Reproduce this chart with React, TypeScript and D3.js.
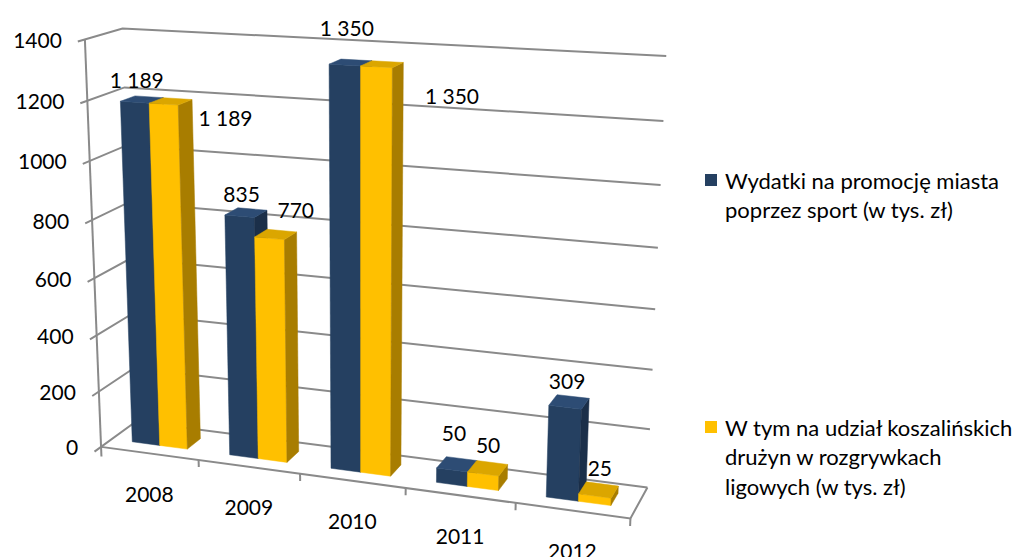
import * as d3 from "d3";

const categories = ["2008", "2009", "2010", "2011", "2012"];
const seriesKeys = ["promo", "league"];
const promoValues = [1189, 835, 1350, 50, 309];
const leagueValues = [1189, 770, 1350, 50, 25];
const yTicks = [0, 200, 400, 600, 800, 1000, 1200, 1400];
const legendLines = [
  ["Wydatki na promocję miasta", "poprzez sport (w tys. zł)"],
  ["W tym na udział koszalińskich", "drużyn w rozgrywkach", "ligowych (w tys. zł)"],
];

const W = 1014, H = 557;
const font = "Lato, 'Open Sans', sans-serif";

const colors = {
  promo: { front: "#254061", side: "#1b2f49", top: "#2d4c74" },
  league: { front: "#ffc000", side: "#a87d00", top: "#dba600" },
};

// where the plot box lands on screen: [u (categories 0..1), w (value 0..1), t (depth 0..1)] -> [x, y]
const frame: [number[], number[]][] = [
  [[0, 1, 0], [85, 39]],
  [[0, 0, 0], [101, 445]],
  [[0, 1, 1], [122, 29]],
  [[1, 1, 1], [667, 56]],
  [[1, 0, 1], [648, 487]],
  [[1, 0, 0], [630, 517]],
  [[0, 5 / 7, 0], [90, 161]],
  [[0, 1 / 7, 0], [99, 390]],
  [[1, 3 / 7, 1], [655, 309]],
  [[1, 5 / 7, 1], [660, 185]],
  [[0.2, 0, 0], [199, 463]],
  [[0.4, 0, 0], [300, 475]],
  [[0.6, 0, 0], [405, 488]],
  [[0.8, 0, 0], [516, 504]],
];

function solve(A: number[][], b: number[]) {
  const n = b.length;
  const M = A.map((r, i) => [...r, b[i]]);
  for (let c = 0; c < n; c++) {
    let piv = c;
    for (let r = c + 1; r < n; r++) if (Math.abs(M[r][c]) > Math.abs(M[piv][c])) piv = r;
    [M[c], M[piv]] = [M[piv], M[c]];
    for (let r = 0; r < n; r++) {
      if (r === c) continue;
      const f = M[r][c] / M[c][c];
      for (let k = c; k <= n; k++) M[r][k] -= f * M[c][k];
    }
  }
  return M.map((r, i) => r[n] / r[i]);
}

// least squares fit of a 3x4 perspective matrix
function fitCamera(pts: [number[], number[]][]) {
  const AtA = Array.from({ length: 11 }, () => new Array(11).fill(0));
  const Atb = new Array(11).fill(0);
  const add = (row: number[], b: number) => {
    for (let i = 0; i < 11; i++) {
      Atb[i] += row[i] * b;
      for (let j = 0; j < 11; j++) AtA[i][j] += row[i] * row[j];
    }
  };
  for (const [[X, Y, Z], [px, py]] of pts) {
    const x = px / 1000, y = py / 1000;
    add([X, Y, Z, 1, 0, 0, 0, 0, -x * X, -x * Y, -x * Z], x);
    add([0, 0, 0, 0, X, Y, Z, 1, -y * X, -y * Y, -y * Z], y);
  }
  const p = solve(AtA, Atb);
  return [p.slice(0, 4), p.slice(4, 8), [p[8], p[9], p[10], 1]];
}

const P = fitCamera(frame);
const project = (u: number, w: number, t: number): [number, number] => {
  const h = P.map((r) => r[0] * u + r[1] * w + r[2] * t + r[3]);
  return [(1000 * h[0]) / h[2], (1000 * h[1]) / h[2]];
};
// camera position in box coordinates
const camera = solve(
  P.map((r) => r.slice(0, 3)),
  P.map((r) => -r[3])
);

const xScale = d3.scaleBand().domain(categories).range([0, 1]).paddingInner(0.43).paddingOuter(0.215);
const sScale = d3.scaleBand().domain(seriesKeys).range([0, xScale.bandwidth()]);
const yScale = d3.scaleLinear().domain([0, 1400]).range([0, 1]);
const zScale = d3.scaleLinear().domain([0, 1]).range([0.3, 0.7]);

const fmt = d3.formatLocale({ decimal: ",", thousands: " ", grouping: [3], currency: ["", " zł"] }).format(",d");
const pathOf = (pts: [number, number, number][]) => d3.line()(pts.map((p) => project(p[0], p[1], p[2])));

type Bar = { key: string; cat: string; value: number; u0: number; u1: number; w1: number };

function barFaces(b: Bar) {
  const { u0, u1, w1 } = b;
  const t0 = zScale(0), t1 = zScale(1), w0 = 0;
  const c = colors[b.key as "promo" | "league"];
  const faces = [
    { n: [0, 0, -1], p: [u0, w0, t0], fill: c.front, pts: [[u0, w0, t0], [u1, w0, t0], [u1, w1, t0], [u0, w1, t0]] },
    { n: [1, 0, 0], p: [u1, w0, t0], fill: c.side, pts: [[u1, w0, t0], [u1, w0, t1], [u1, w1, t1], [u1, w1, t0]] },
    { n: [-1, 0, 0], p: [u0, w0, t0], fill: c.side, pts: [[u0, w0, t0], [u0, w0, t1], [u0, w1, t1], [u0, w1, t0]] },
    { n: [0, 1, 0], p: [u0, w1, t0], fill: c.top, pts: [[u0, w1, t0], [u1, w1, t0], [u1, w1, t1], [u0, w1, t1]] },
  ];
  return faces.filter((f) => {
    const d = (camera[0] - f.p[0]) * f.n[0] + (camera[1] - f.p[1]) * f.n[1] + (camera[2] - f.p[2]) * f.n[2];
    return d > 0;
  });
}

// offsets of the data labels, as Excel places them around the bar tops
function labelOffset(key: string, v: number): [number, number] {
  if (key === "promo") {
    return [2, -23 - 0.09 * Math.max(0, v - 1189) - 0.04 * Math.max(0, 400 - v)];
  }
  return [5 + 0.085 * Math.max(0, v - 520), -29 + 0.1 * Math.max(0, v - 770)];
}

export default function App() {
  const bars: Bar[] = [];
  categories.forEach((cat, i) => {
    [promoValues[i], leagueValues[i]].forEach((value, s) => {
      const key = seriesKeys[s];
      const u0 = (xScale(cat) ?? 0) + (sScale(key) ?? 0);
      bars.push({ key, cat, value, u0, u1: u0 + sScale.bandwidth(), w1: yScale(value) });
    });
  });
  const ordered = [...bars].sort(
    (a, b) => Math.abs((b.u0 + b.u1) / 2 - camera[0]) - Math.abs((a.u0 + a.u1) / 2 - camera[0])
  );
  const grey = "#8a8a8a";
  const boundaries = d3.range(categories.length + 1).map((i) => i / categories.length);

  return (
    <svg width={W} height={H} style={{ position: "absolute", left: 0, top: 0, background: "#fff" }}>
      {/* walls */}
      {yTicks.map((v) => (
        <path key={v} d={pathOf([[0, yScale(v), -0.18], [0, yScale(v), 1], [1, yScale(v), 1]]) ?? ""}
          fill="none" stroke={grey} strokeWidth={2} />
      ))}
      <path d={pathOf([[0, -0.025, 0], [0, 1, 0]]) ?? ""} stroke={grey} strokeWidth={2} fill="none" />
      <path d={pathOf([[0, 0, 0], [1, 0, 0], [1, 0, 1]]) ?? ""} stroke={grey} strokeWidth={2} fill="none" />
      {boundaries.slice(1).map((u) => (
        <path key={u} d={pathOf([[u, 0, 0], [u, -0.018, 0]]) ?? ""} stroke={grey} strokeWidth={2} fill="none" />
      ))}

      {/* bars */}
      {ordered.map((b) =>
        barFaces(b).map((f, j) => (
          <path key={b.key + b.cat + j} d={(pathOf(f.pts as [number, number, number][]) ?? "") + "Z"}
            fill={f.fill} stroke={f.fill} strokeWidth={0.5} />
        ))
      )}

      {/* y tick labels */}
      {yTicks.map((v) => {
        const [x, y] = project(0, yScale(v), 0);
        return (
          <text key={v} x={x - 23} y={y} textAnchor="end" dominantBaseline="central"
            fontFamily={font} fontSize={21} fill="#000">{v}</text>
        );
      })}

      {/* category labels */}
      {categories.map((c) => {
        const [x, y] = project((xScale(c) ?? 0) + xScale.bandwidth() / 2, 0, 0);
        return (
          <text key={c} x={x} y={y + 40} textAnchor="middle" dominantBaseline="central"
            fontFamily={font} fontSize={21} fill="#000">{c}</text>
        );
      })}

      {/* data labels */}
      {bars.map((b) => {
        const [x, y] = project((b.u0 + b.u1) / 2, b.w1, zScale(0));
        const [dx, dy] = labelOffset(b.key, b.value);
        return (
          <text key={"l" + b.key + b.cat} x={x + dx} y={y + dy} textAnchor="middle" dominantBaseline="central"
            fontFamily={font} fontSize={21} fill="#000">{fmt(b.value)}</text>
        );
      })}

      {/* legend */}
      {legendLines.map((lines, i) => {
        const top = i === 0 ? 180 : 427;
        return (
          <g key={i}>
            <rect x={705} y={top - 6} width={12} height={12} fill={colors[seriesKeys[i] as "promo" | "league"].front} />
            {lines.map((l, j) => (
              <text key={j} x={725} y={top + j * 29.5} dominantBaseline="central"
                fontFamily={font} fontSize={22} fill="#000">{l}</text>
            ))}
          </g>
        );
      })}
    </svg>
  );
}
